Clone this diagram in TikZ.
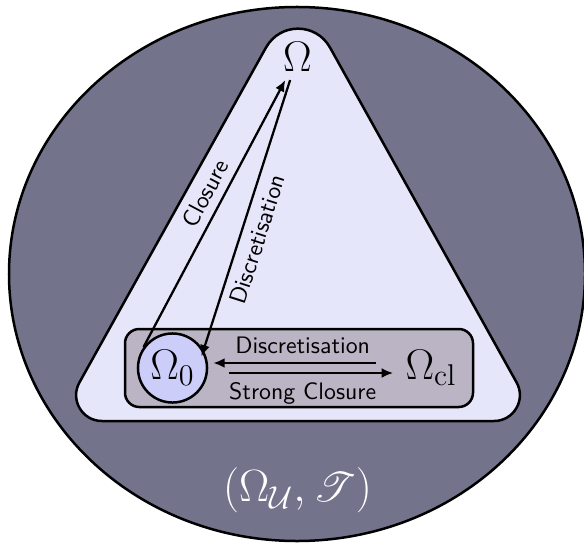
\RequirePackage{fix-cm}
\documentclass[tikz,border=0pt]{standalone}
\usepackage{amsmath,amssymb,mathrsfs}
\usetikzlibrary{arrows.meta}
\definecolor{outerfill}{RGB}{115,115,140}
\definecolor{trifill}{RGB}{230,230,250}
\definecolor{boxfill}{RGB}{186,180,196}
\definecolor{discfill}{RGB}{205,205,250}
\begin{document}
\begin{tikzpicture}[x=0.42pt,y=-0.42pt]
\tikzset{
  outline/.style={draw=black, line width=1.05pt},
  arr/.style={line width=0.95pt, -{Latex[length=4.8pt,width=4.2pt]}},
  rarr/.style={line width=0.95pt, {Latex[length=4.8pt,width=4.2pt]}-},
  bigmath/.style={font=\fontsize{18}{20}\selectfont, inner sep=3.33pt},
  lbl/.style={font=\sffamily\fontsize{10}{12}\selectfont, inner sep=3.33pt}
}
\useasboundingbox (0,0) rectangle (584,546);

% the whole space
\draw[outline, fill=outerfill] (297,274) ellipse [x radius=120.96pt, y radius=112.14pt];

% rounded triangle
\draw[outline, fill=trifill]
  (265.9,47.7) .. controls (280,22.3) and (316,22.3) .. (330.1,47.7)
  -- (516.6,382.5) .. controls (526.2,399.8) and (513.8,421) .. (494,421)
  -- (102,421) .. controls (82.2,421) and (69.8,399.8) .. (79.4,382.5)
  -- cycle;

% inner box
\draw[outline, fill=boxfill, rounded corners=6pt] (125,329) rectangle (473,407);

% nodes
\node[circle, outline, fill=discfill, minimum size=29pt, inner sep=0pt,
      font=\fontsize{18}{20}\selectfont] (O0) at (172.5,368) {$\Omega_0$};
\node[bigmath] (Ocl) at (431,368) {$\Omega_{\mathrm{cl}}$};
\node[bigmath] (Om) at (297.5,57) {$\Omega$};
\node[font=\fontsize{19}{22}\selectfont, text=white] (space) at (297.5,490)
  {$(\Omega_{\mathcal{U}},\mathscr{T})$};

% connectors
\draw[arr] (O0.144) -- (Om) node[lbl, pos=0.545, above, sloped] {Closure};
\draw[rarr, shorten <=-2.8pt] (O0.30) -- (Om) node[lbl, pos=0.43, below, sloped] {Discretisation};
\draw[arr, shorten <=8.8pt, shorten >=2.1pt] ([yshift=2.1pt]Ocl.west) -- ([yshift=2.1pt]O0.east)
  node[lbl, midway, above] {Discretisation};
\draw[arr, shorten <=8.8pt, shorten >=1.7pt] ([yshift=-2.1pt]O0.east) -- ([yshift=-2.1pt]Ocl.west)
  node[lbl, midway, below] {Strong Closure};
\end{tikzpicture}
\end{document}
